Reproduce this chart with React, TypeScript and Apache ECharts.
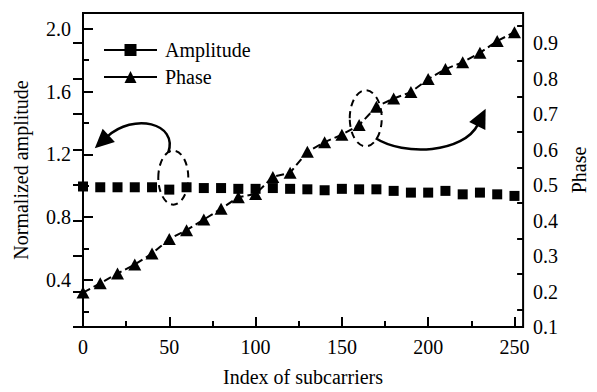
import { useEffect, useRef } from "react";
import * as echarts from "echarts";

const subcarrierIndex = [0, 10, 20, 30, 40, 50, 60, 70, 80, 90, 100, 110, 120, 130, 140, 150, 160, 170, 180, 190, 200, 210, 220, 230, 240, 250];
const amplitude = [0.995, 0.99, 0.99, 0.99, 0.99, 0.975, 0.99, 0.985, 0.985, 0.98, 0.98, 0.985, 0.98, 0.977, 0.971, 0.98, 0.977, 0.977, 0.967, 0.956, 0.956, 0.967, 0.945, 0.956, 0.945, 0.935];
const phase = [0.197, 0.223, 0.251, 0.276, 0.307, 0.348, 0.373, 0.403, 0.433, 0.466, 0.475, 0.523, 0.535, 0.594, 0.621, 0.642, 0.669, 0.721, 0.744, 0.762, 0.799, 0.827, 0.846, 0.873, 0.906, 0.931];

const xTickLabels = [0, 50, 100, 150, 200, 250];
const xMinorTicks = [25, 75, 125, 175, 225];
const leftTickLabels = [0.4, 0.8, 1.2, 1.6, 2.0];
const leftMinorTicks = [0.2, 0.6, 1.0, 1.4, 1.8];
const rightTickLabels = [0.1, 0.2, 0.3, 0.4, 0.5, 0.6, 0.7, 0.8, 0.9];
const rightMinorTicks = [0.15, 0.25, 0.35, 0.45, 0.55, 0.65, 0.75, 0.85, 0.95];

const FONT = '"Liberation Serif", "Times New Roman", serif';
const BLACK = "#000";

function arrowParts(
  ax: number,
  ay: number,
  s: number[],
  c1: number[],
  c2: number[],
  e: number[],
  headLen: number,
  headHalf: number
) {
  const ex = ax + e[0];
  const ey = ay + e[1];
  const dx = e[0] - c2[0];
  const dy = e[1] - c2[1];
  const len = Math.sqrt(dx * dx + dy * dy) || 1;
  const ux = dx / len;
  const uy = dy / len;
  const tip = [ex + ux * headLen, ey + uy * headLen];
  const px = -uy;
  const py = ux;
  return [
    {
      type: "bezierCurve",
      z: 100,
      shape: {
        x1: ax + s[0],
        y1: ay + s[1],
        cpx1: ax + c1[0],
        cpy1: ay + c1[1],
        cpx2: ax + c2[0],
        cpy2: ay + c2[1],
        x2: ex,
        y2: ey,
      },
      style: { stroke: BLACK, lineWidth: 2.5, fill: null },
    },
    {
      type: "polygon",
      z: 100,
      shape: {
        points: [
          tip,
          [ex + px * headHalf - ux * 2, ey + py * headHalf - uy * 2],
          [ex - px * headHalf - ux * 2, ey - py * headHalf - uy * 2],
        ],
      },
      style: { fill: BLACK },
    },
  ];
}

export default function App() {
  const ref = useRef<HTMLDivElement>(null);

  useEffect(() => {
    if (!ref.current) return;
    const chart = echarts.init(ref.current, null, { renderer: "svg" });

    const axisLineStyle = { color: BLACK, width: 2 };
    const labelStyle = { color: BLACK, fontSize: 20, fontFamily: FONT };
    const nameStyle = { color: BLACK, fontSize: 20, fontFamily: FONT };

    chart.setOption({
      animation: false,
      backgroundColor: "#fff",
      grid: {
        left: 83,
        right: 64,
        top: 13,
        bottom: 60,
        show: true,
        borderColor: BLACK,
        borderWidth: 2,
        backgroundColor: "transparent",
      },
      legend: {
        left: 103,
        top: 40,
        orient: "vertical",
        padding: 0,
        itemWidth: 53,
        itemHeight: 15,
        itemGap: 7,
        textStyle: { ...labelStyle, padding: [0, 0, 0, 3] },
        lineStyle: { type: "solid", width: 2, opacity: 1, color: BLACK },
        data: ["Amplitude", "Phase"],
      },
      xAxis: [
        {
          type: "value",
          min: 0,
          max: 255,
          position: "bottom",
          axisLine: { show: true, lineStyle: axisLineStyle },
          axisTick: {
            show: true,
            inside: true,
            length: 10,
            lineStyle: axisLineStyle,
            customValues: xTickLabels,
          },
          axisLabel: {
            ...labelStyle,
            margin: 10,
            customValues: xTickLabels,
            formatter: (v: number) => String(v),
          },
          splitLine: { show: false },
          name: "Index of subcarriers",
          nameLocation: "middle",
          nameGap: 40,
          nameTextStyle: nameStyle,
        },
        {
          type: "value",
          min: 0,
          max: 255,
          position: "bottom",
          axisLine: { show: false },
          axisTick: {
            show: true,
            inside: true,
            length: 6,
            lineStyle: axisLineStyle,
            customValues: xMinorTicks,
          },
          axisLabel: { show: false },
          splitLine: { show: false },
        },
      ],
      yAxis: [
        {
          type: "value",
          min: 0.1,
          max: 2.1,
          position: "left",
          axisLine: { show: true, lineStyle: axisLineStyle },
          axisTick: {
            show: true,
            inside: true,
            length: 10,
            lineStyle: axisLineStyle,
            customValues: leftTickLabels,
          },
          axisLabel: {
            ...labelStyle,
            margin: 12,
            customValues: leftTickLabels,
            formatter: (v: number) => v.toFixed(1),
          },
          splitLine: { show: false },
          name: "Normalized amplitude",
          nameLocation: "middle",
          nameGap: 52,
          nameTextStyle: nameStyle,
        },
        {
          type: "value",
          min: 0.1,
          max: 0.985,
          position: "right",
          axisLine: { show: true, lineStyle: axisLineStyle },
          axisTick: {
            show: true,
            inside: true,
            length: 10,
            lineStyle: axisLineStyle,
            customValues: rightTickLabels,
          },
          axisLabel: {
            ...labelStyle,
            margin: 10,
            customValues: rightTickLabels,
            formatter: (v: number) => v.toFixed(1),
          },
          splitLine: { show: false },
          name: "Phase",
          nameLocation: "middle",
          nameGap: 42,
          nameTextStyle: nameStyle,
        },
        {
          type: "value",
          min: 0.1,
          max: 2.1,
          position: "left",
          axisLine: { show: false },
          axisTick: {
            show: true,
            inside: true,
            length: 6,
            lineStyle: axisLineStyle,
            customValues: leftMinorTicks,
          },
          axisLabel: { show: false },
          splitLine: { show: false },
        },
        {
          type: "value",
          min: 0.1,
          max: 0.985,
          position: "right",
          axisLine: { show: false },
          axisTick: {
            show: true,
            inside: true,
            length: 6,
            lineStyle: axisLineStyle,
            customValues: rightMinorTicks,
          },
          axisLabel: { show: false },
          splitLine: { show: false },
        },
      ],
      series: [
        {
          type: "line",
          name: "Amplitude",
          xAxisIndex: 0,
          yAxisIndex: 0,
          data: subcarrierIndex.map((x, i) => [x, amplitude[i]]),
          symbol: "rect",
          symbolSize: 10,
          showAllSymbol: true,
          itemStyle: { color: BLACK },
          lineStyle: { color: BLACK, width: 2, type: [8, 5], opacity: 0 },
          z: 3,
        },
        {
          type: "line",
          name: "Phase",
          xAxisIndex: 0,
          yAxisIndex: 1,
          data: subcarrierIndex.map((x, i) => [x, phase[i]]),
          symbol: "triangle",
          symbolSize: [13, 12],
          showAllSymbol: true,
          itemStyle: { color: BLACK },
          lineStyle: { color: BLACK, width: 2, type: [8, 4] },
          z: 2,
        },
      ],
    });

    const pL = chart.convertToPixel({ xAxisIndex: 0, yAxisIndex: 0 }, [subcarrierIndex[5], amplitude[5]]) as number[];
    const pR = chart.convertToPixel({ xAxisIndex: 0, yAxisIndex: 1 }, [subcarrierIndex[16], phase[16]]) as number[];

    const dashed = { fill: null, stroke: BLACK, lineWidth: 2, lineDash: [7, 5] };
    const graphics: any[] = [
      {
        type: "ellipse",
        z: 100,
        shape: { cx: pL[0] + 4, cy: pL[1] - 12, rx: 15, ry: 27 },
        style: dashed,
      },
      {
        type: "ellipse",
        z: 100,
        shape: { cx: pR[0] + 6.6, cy: pR[1] - 6.8, rx: 16, ry: 28 },
        style: dashed,
      },
      ...arrowParts(pL[0], pL[1], [-1, -37], [9, -67], [-36, -77], [-62, -53], 17, 9),
      ...arrowParts(pR[0], pR[1], [16.6, 13.2], [44.6, 31.2], [104.6, 28.2], [119, -1], 17, 9),
    ];
    chart.setOption({ graphic: graphics });

    return () => {
      chart.dispose();
    };
  }, []);

  return (
    <div
      ref={ref}
      style={{ position: "fixed", left: 0, top: 0, width: 597, height: 392, background: "#fff" }}
    />
  );
}
